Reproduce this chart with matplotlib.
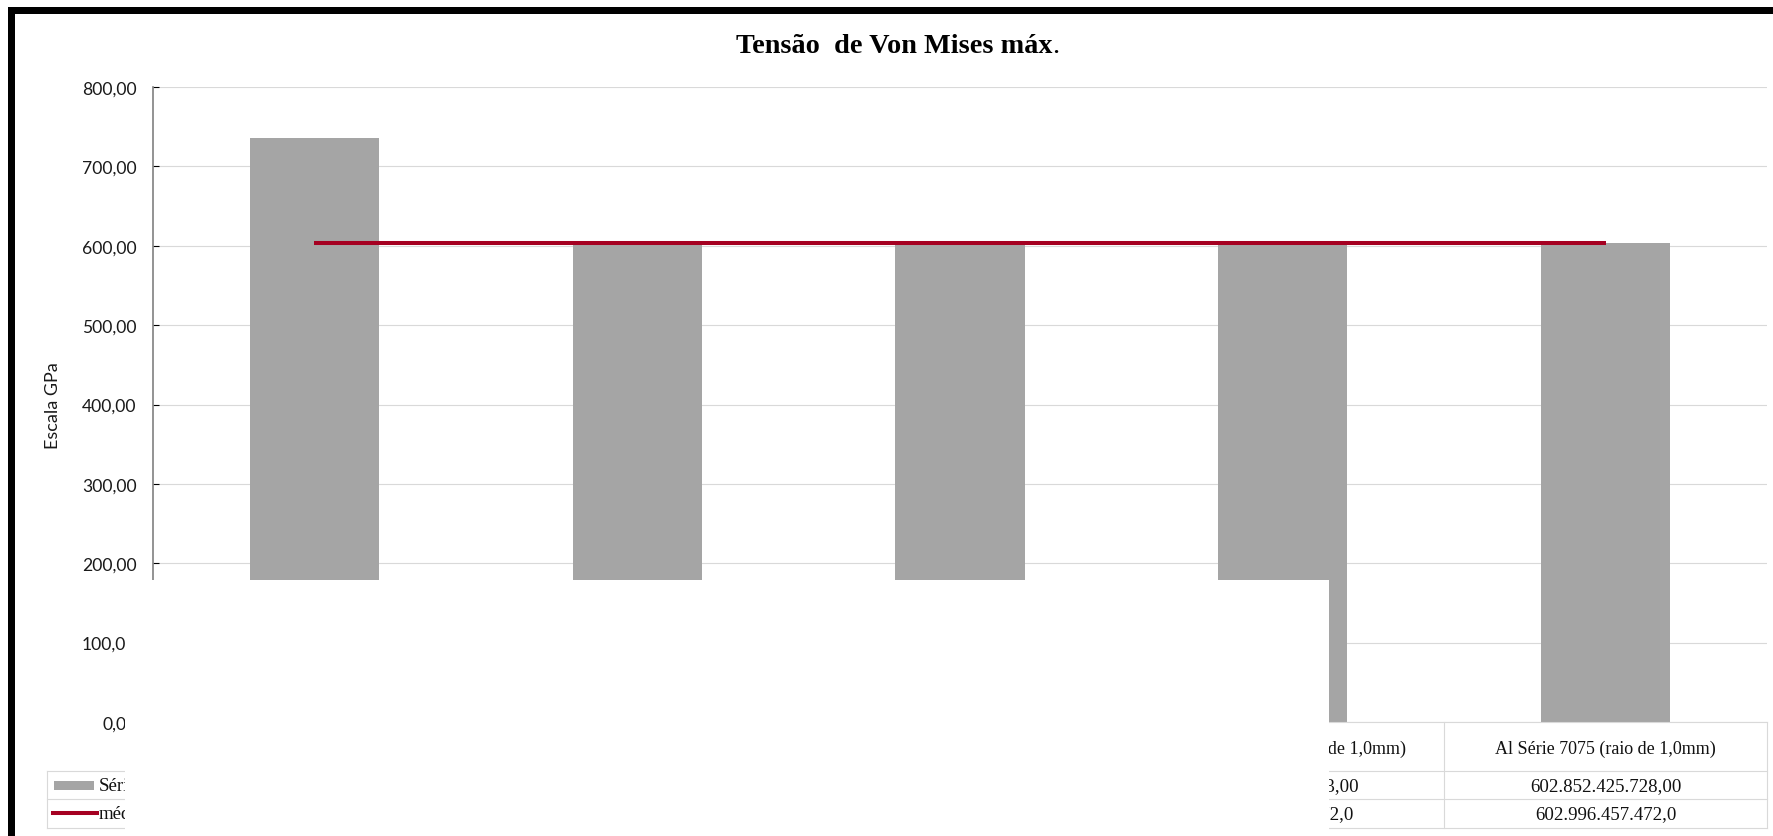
import matplotlib.pyplot as plt
import matplotlib.patches as patches
from matplotlib.lines import Line2D
from matplotlib.ticker import FuncFormatter

# Dados (tensões em Pa)
materiais = ["Aço AISI 1020 (raio de 0,5mm)",
             "Aço AISI 1045 (raio de 1,0mm)",
             "Aço Inox 304 (raio de 1,0mm)",
             "Al Série 6061-T6 (raio de 1,0mm)",
             "Al Série 7075 (raio de 1,0mm)"]
tensao_pa = [735_812_366_336.0, 602_905_128_960.0, 602_930_786_304.0,
             602_871_633_503.0, 602_852_425_728.0]
media_pa = [602_996_457_472.0] * 5
nomes_series = ["Série1", "média"]
yticks = [0, 100, 200, 300, 400, 500, 600, 700, 800]

W, H = 1774, 837
CINZA = '#a5a5a5'
VERMELHO = '#a50021'
GRADE = '#d9d9d9'
TAB_FS = 13.6
CAB_FS = 13.0


def br(v, dec):
    s = f"{v:,.{dec}f}"
    return s.replace(',', '#').replace('.', ',').replace('#', '.')


def fx(px):
    return px / W


def fy(py):
    return 1 - py / H


fig = plt.figure(figsize=(W / 100, H / 100), dpi=100)
fig.patch.set_facecolor('white')

# área do gráfico
x0, x1, ytop, ybot = 153, 1767, 88, 723
ax = fig.add_axes([fx(x0), fy(ybot), (x1 - x0) / W, (ybot - ytop) / H])

xs = list(range(len(materiais)))
gpa = [v / 1e9 for v in tensao_pa]
media_gpa = [v / 1e9 for v in media_pa]

ax.bar(xs, gpa, width=0.4, color=CINZA, linewidth=0, zorder=2)
ax.plot(xs, media_gpa, color=VERMELHO, lw=2.9, solid_capstyle='butt', zorder=3)

ax.set_xlim(-0.5, len(materiais) - 0.5)
ax.set_ylim(0, 800)
ax.set_yticks(yticks)
ax.yaxis.set_major_formatter(FuncFormatter(lambda v, p: br(v, 2)))
ax.set_xticks([])
ax.grid(axis='y', color=GRADE, lw=0.8, zorder=0)
ax.set_axisbelow(True)
for s in ['top', 'right', 'bottom']:
    ax.spines[s].set_visible(False)
ax.spines['left'].set_color('#808080')
ax.spines['left'].set_linewidth(1.2)
ax.tick_params(axis='y', direction='in', length=4, width=0.8, color='black',
               pad=12, labelsize=12.6, labelcolor='#1a1a1a')
for lb in ax.get_yticklabels():
    lb.set_fontfamily('Lato')

# tabela de dados abaixo do eixo
trans = ax.get_xaxis_transform()
h_px = ybot - ytop


def ay(py):
    return (ybot - py) / h_px


serif = 'Liberation Serif'
for py in [723, 772, 800, 829]:
    ax.add_line(Line2D([-0.5, 4.5], [ay(py)] * 2, transform=trans, color=GRADE,
                       lw=0.8, clip_on=False))
for i in range(len(materiais) + 1):
    ax.add_line(Line2D([i - 0.5] * 2, [ay(723), ay(829)], transform=trans,
                       color=GRADE, lw=0.8, clip_on=False))
for i, nome in enumerate(materiais):
    ax.text(i, ay(749), nome, transform=trans, ha='center', va='center',
            fontsize=CAB_FS, family=serif, color='#111111', clip_on=False)
    ax.text(i, ay(787), br(tensao_pa[i], 2), transform=trans, ha='center',
            va='center', fontsize=TAB_FS, family=serif, color='#111111', clip_on=False)
    ax.text(i, ay(815), br(media_pa[i], 1), transform=trans, ha='center',
            va='center', fontsize=TAB_FS, family=serif, color='#111111', clip_on=False)

# chaves de legenda da tabela
for py in [772, 800, 829]:
    fig.add_artist(Line2D([fx(47), fx(x0)], [fy(py)] * 2, color=GRADE, lw=0.8))
fig.add_artist(Line2D([fx(47)] * 2, [fy(772), fy(829)], color=GRADE, lw=0.8))
fig.add_artist(patches.Rectangle((fx(54), fy(791)), fx(40), 9 / H,
                                 transform=fig.transFigure, color=CINZA, lw=0))
fig.add_artist(Line2D([fx(53), fx(97)], [fy(814)] * 2, color=VERMELHO, lw=2.9))
fig.text(fx(99), fy(787), nomes_series[0], ha='left', va='center',
         fontsize=TAB_FS, family=serif, color='#111111')
fig.text(fx(99), fy(815), nomes_series[1], ha='left', va='center',
         fontsize=TAB_FS, family=serif, color='#111111')

# títulos
fig.text(fx(1052), fy(53), "Tensão  de Von Mises máx", ha='right', va='baseline',
         fontsize=20.3, family=serif, fontweight='bold')
fig.text(fx(1052), fy(53), ".", ha='left', va='baseline', fontsize=20.3, family=serif)
fig.text(fx(53), fy(406), "Escala GPa", rotation=90, ha='center', va='center',
         fontsize=13, family='Lato', color='#1a1a1a')

# faixa branca sobre a parte inferior
fig.add_artist(patches.Rectangle((fx(125.5), 0), fx(1329 - 125.5), fy(581),
                                 transform=fig.transFigure, facecolor='white',
                                 edgecolor='none', zorder=10))

# moldura preta
fig.add_artist(patches.Rectangle((fx(8), 0), fx(7), fy(8), transform=fig.transFigure,
                                 facecolor='black', edgecolor='none', zorder=11))
fig.add_artist(patches.Rectangle((fx(8), fy(14.5)), 1 - fx(8), 6.5 / H,
                                 transform=fig.transFigure, facecolor='black',
                                 edgecolor='none', zorder=11))

fig.savefig('out.png', dpi=100)
